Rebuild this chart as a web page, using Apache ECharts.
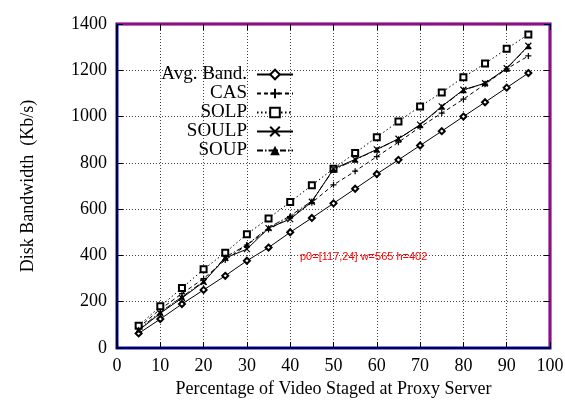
<!DOCTYPE html>
<html><head><meta charset="utf-8">
<script src="https://cdn.jsdelivr.net/npm/echarts@6/dist/echarts.min.js"></script>
<style>html,body{margin:0;padding:0;background:#fff}#c{width:565px;height:402px}#dbg{position:absolute;left:300px;top:250px;font:11px sans-serif;color:red;width:250px}</style>
</head><body><div id="c"></div><div id="dbg"></div>
<script>
var errs = [];
window.onerror = function(m){ errs.push(String(m)); document.getElementById('dbg').textContent = errs.join(' | '); };
var xs = [5,10,15,20,25,30,35,40,45,50,55,60,65,70,75,80,85,90,95];
var avgBand = [63,125,190,251,312,377,434,500,562,625,688,752,813,875,937,1000,1062,1125,1188];
var cas = [88,168,235,300,380,445,512,565,628,705,764,827,889,955,1015,1075,1140,1206,1262];
var solp = [96,180,259,340,412,492,560,631,703,775,843,911,979,1044,1104,1170,1229,1293,1355];
var soulp = [76,150,216,285,389,427,518,557,632,774,815,858,904,965,1044,1116,1144,1209,1306];
var soup = [80,155,221,288,392,446,520,571,635,770,813,857,904,963,1042,1114,1144,1207,1304];
var xTicks = [0,10,20,30,40,50,60,70,80,90,100];
var yTicks = [0,200,400,600,800,1000,1200,1400];

function pairs(v){ return xs.map(function(x,i){return [x,v[i]];}); }
var font = 'Liberation Serif';
var seriesDefs = [
  {name:'Avg. Band.', data:avgBand, symbol:'emptyDiamond', size:6, line:'solid'},
  {name:'CAS', data:cas, symbol:'path://M0,5L10,5M5,0L5,10', size:6, line:[4,3]},
  {name:'SOLP', data:solp, symbol:'emptyRect', size:6, line:[1.5,2.5]},
  {name:'SOULP', data:soulp, symbol:'path://M0,0L10,10M0,10L10,0', size:6, line:'solid'},
  {name:'SOUP', data:soup, symbol:'triangle', size:6, line:[6,2,1.5,2]}
];
var series = seriesDefs.map(function(d){
  var isPath = d.symbol.indexOf('path://')===0;
  return {
    name:d.name, type:'line', data:pairs(d.data), symbol:d.symbol, symbolSize:d.size,
    showAllSymbol:true, animation:false, xAxisIndex:1, yAxisIndex:1,
    lineStyle:{color:'#000', width:1, type:d.line},
    itemStyle: isPath ? {color:'#000', borderColor:'#000', borderWidth:1.2} :
      (d.symbol.indexOf('empty')===0 ? {color:'#000', borderColor:'#000', borderWidth:1} : {color:'#000'}),
    emphasis:{disabled:true}
  };
});
var rowsTop = [65, 84, 103, 122, 141];
var legends = seriesDefs.map(function(d,i){
  return {data:[d.name], right:271, top:rowsTop[i], align:'right', orient:'vertical',
    itemWidth:36, itemHeight:12, padding:0,
    textStyle:{fontFamily:font, fontSize:19, color:'#000', padding:[0,5,0,0]}};
});
function tickStyle(){ return {show:true, inside:true, length:6, lineStyle:{color:'#000', width:1}}; }
function axLine(c){ return {show:true, onZero:false, lineStyle:{color:c, width:1.5}}; }
var chart = echarts.init(document.getElementById('c'));
try {
chart.setOption({
  animation:false,
  legend: legends,
  grid:{left:117, right:15, top:24, bottom:54, outerBoundsMode:'none', show:true, borderColor:'blue', borderWidth:3},
  xAxis:[{
    type:'value', min:0, max:100, interval:10,
    name:'Percentage of Video Staged at Proxy Server', nameLocation:'middle', nameGap:28,
    nameTextStyle:{fontFamily:font, fontSize:18, color:'#000'},
    axisLine:axLine('#000'),
    axisTick:tickStyle(),
    axisLabel:{fontFamily:font, fontSize:18, color:'#000', margin:9,
      formatter:function(v){return xTicks.indexOf(v)>=0? String(v):'';}},
    splitLine:{show:true, lineStyle:{color:'#444', type:[1,2], width:1}}
  },{
    type:'value', min:0, max:100, interval:10, position:'top',
    axisLine:axLine('red'),
    axisTick:tickStyle(),
    axisLabel:{show:false}, splitLine:{show:false}
  }],
  yAxis:[{
    type:'value', min:0, max:1400, interval:200,
    name:'Disk Bandwidth  (Kb/s)', nameLocation:'middle', nameGap:80,
    nameTextStyle:{fontFamily:font, fontSize:18, color:'#000'},
    axisLine:axLine('#000'),
    axisTick:tickStyle(),
    axisLabel:{fontFamily:font, fontSize:18, color:'#000', margin:10,
      formatter:function(v){return yTicks.indexOf(v)>=0? String(v):'';}},
    splitLine:{show:true, lineStyle:{color:'#444', type:[1,2], width:1}}
  },{
    type:'value', min:0, max:1400, interval:200, position:'right',
    axisLine:axLine('red'),
    axisTick:tickStyle(),
    axisLabel:{show:false}, splitLine:{show:false}
  }],
  series: series
});
} catch(e) { errs.push('setOption: ' + e.message); }
var p0 = chart.convertToPixel({xAxisIndex:0, yAxisIndex:0}, [0, 1400]);
errs.push('p0=' + JSON.stringify(p0) + ' w=' + chart.getWidth() + ' h=' + chart.getHeight());
document.getElementById('dbg').textContent = errs.join(' | ');
</script></body></html>
